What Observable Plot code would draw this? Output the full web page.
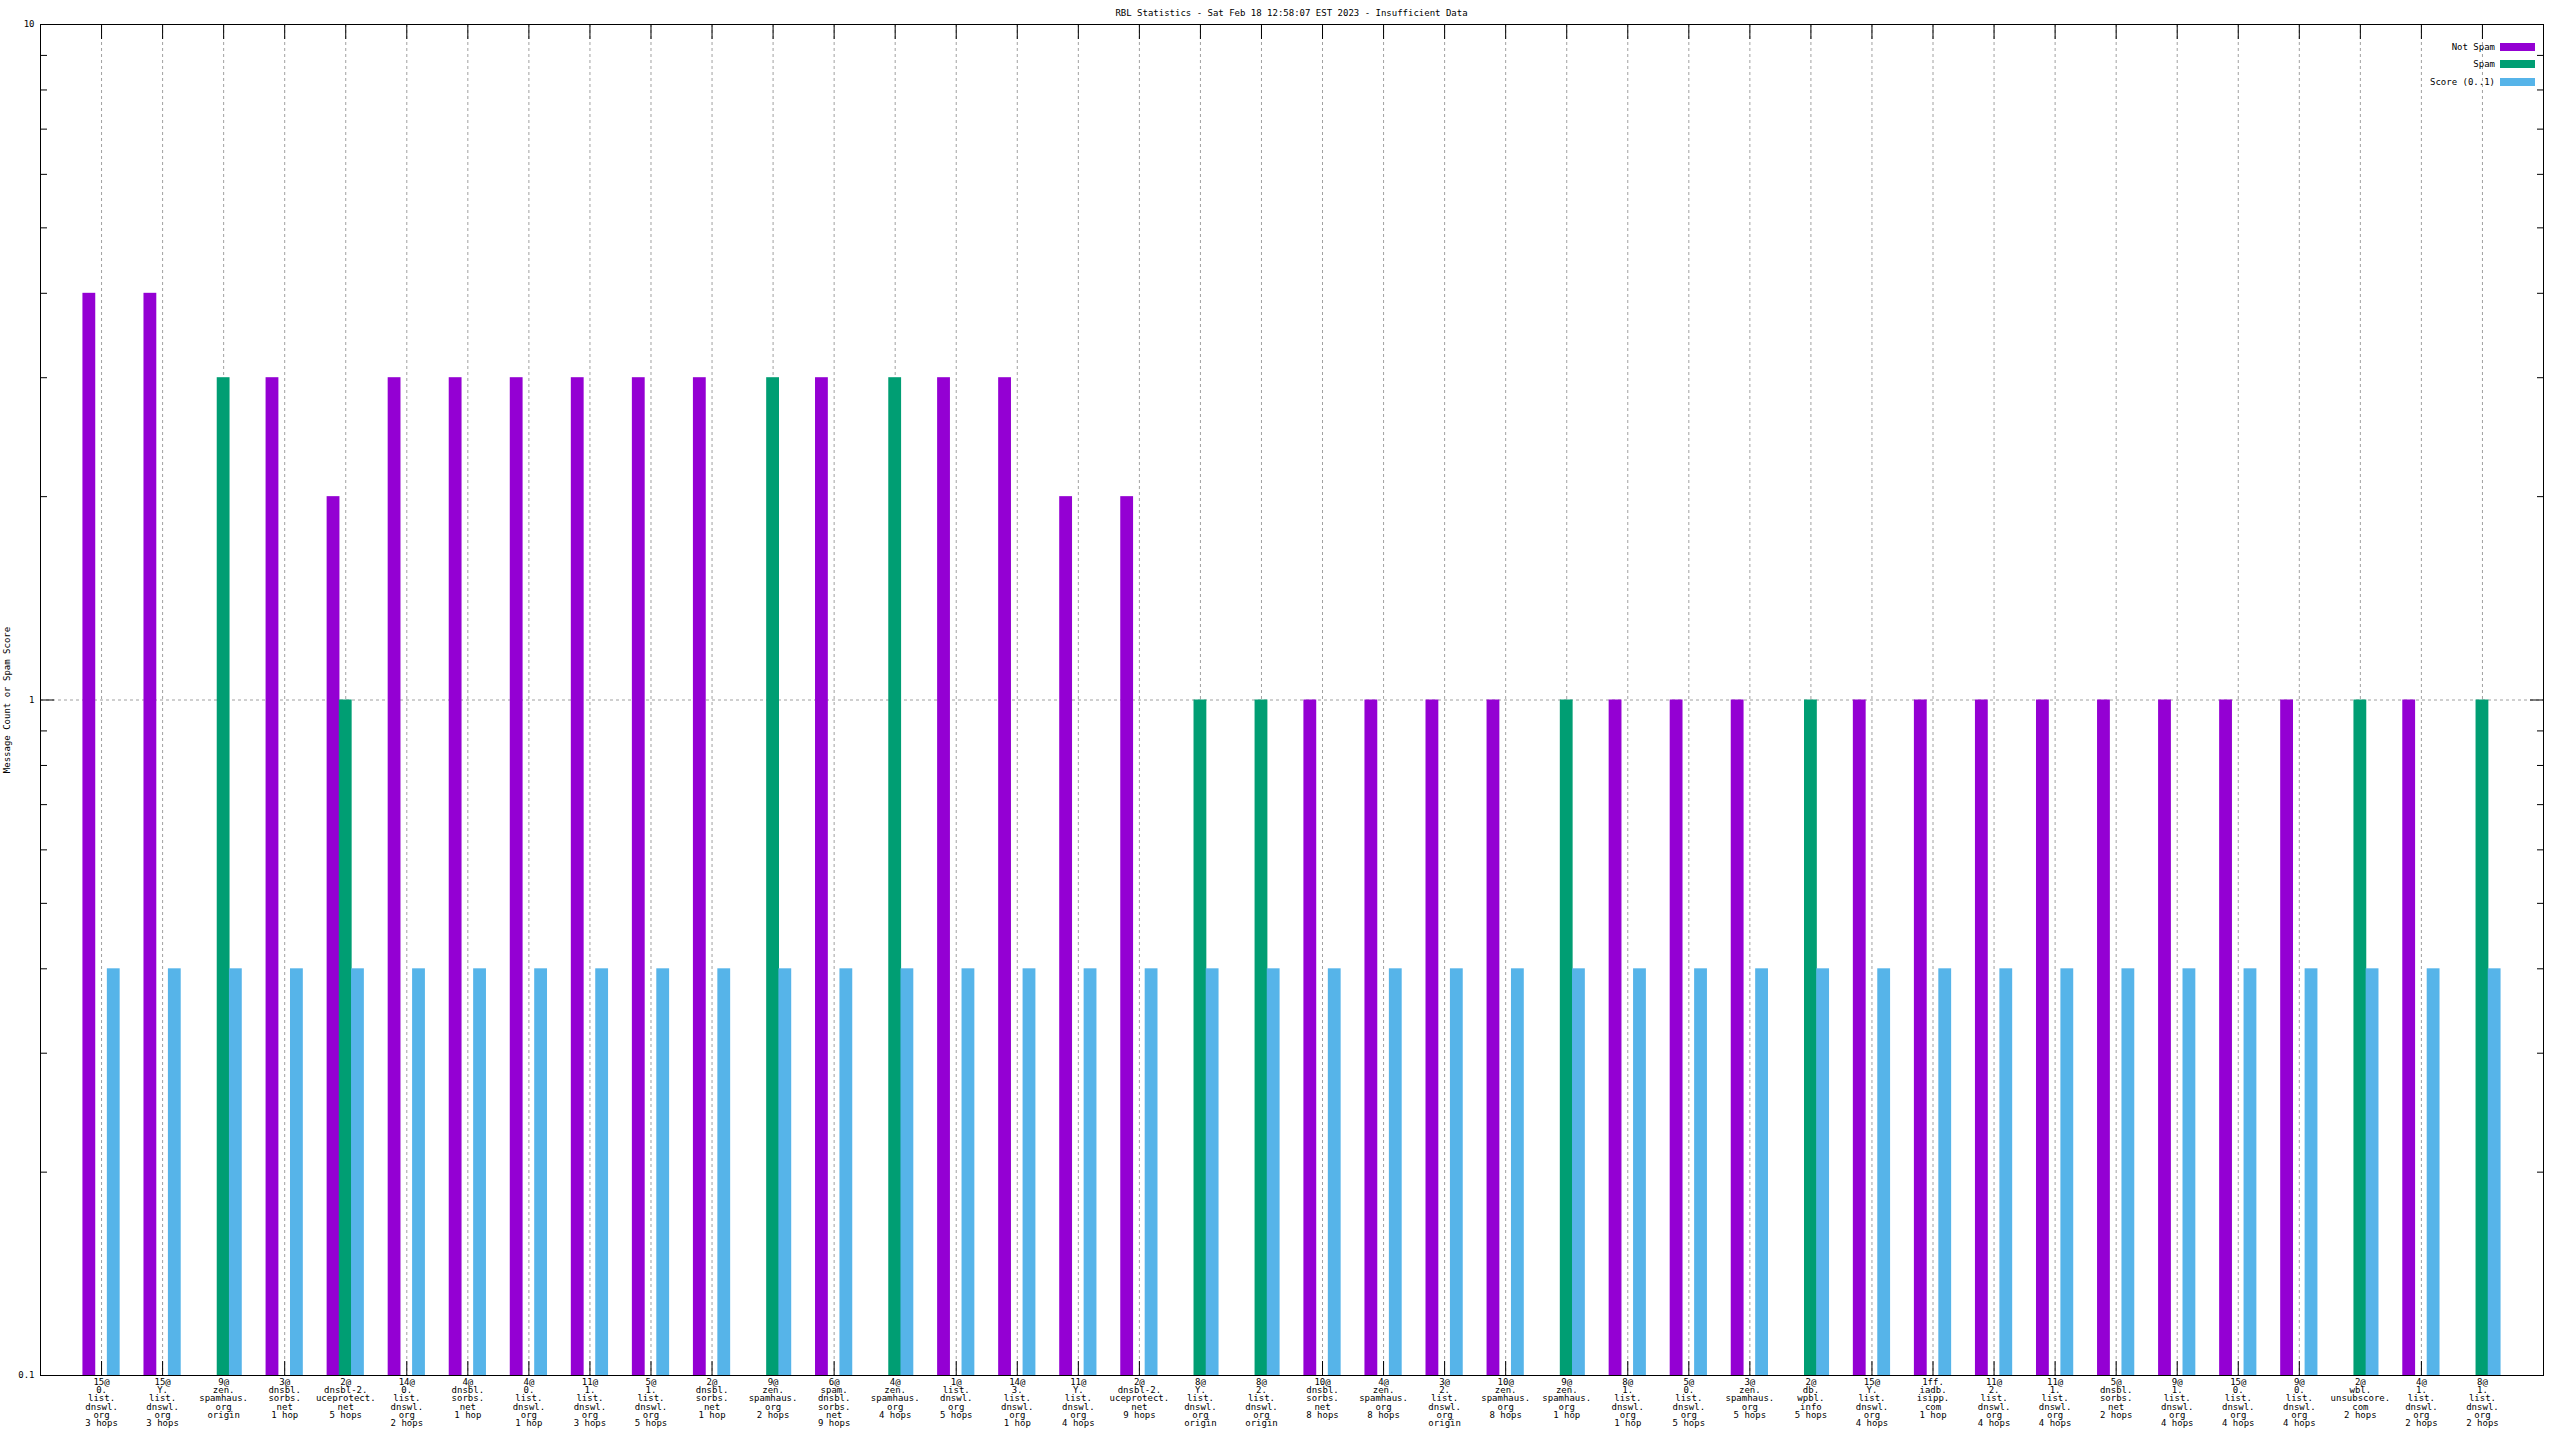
<!DOCTYPE html>
<html><head><meta charset="utf-8">
<script src="https://cdn.jsdelivr.net/npm/d3@7"></script>
<script src="https://cdn.jsdelivr.net/npm/@observablehq/plot@0.6"></script>
<style>
html,body{margin:0;padding:0;background:#fff;}
#wrap{position:relative;width:2560px;height:1440px;font-family:"DejaVu Sans Mono",monospace;color:#000;}
#title{position:absolute;left:40px;top:0;width:2503px;height:26px;line-height:26px;font-size:9px;text-align:center;white-space:pre;}
#legend{position:absolute;right:25px;top:38px;font-size:9px;}
.row{display:flex;align-items:center;justify-content:flex-end;height:17.5px;white-space:pre;}
.sw{width:35px;height:8px;margin-left:5px;}
#chart svg{display:block;}
</style></head><body>
<div id="wrap"><div id="chart"></div><div id="title"></div><div id="legend"></div></div>
<script>
const titleText = "RBL Statistics - Sat Feb 18 12:58:07 EST 2023 - Insufficient Data";
const yLabel = "Message Count or Spam Score";
const seriesNames = ["Not Spam", "Spam", "Score (0..1)"];
const seriesColors = ["#9400d3", "#009e73", "#56b4e9"];

const categories = [
  "15@\n0.\nlist.\ndnswl.\norg\n3 hops",
  "15@\nY.\nlist.\ndnswl.\norg\n3 hops",
  "9@\nzen.\nspamhaus.\norg\norigin",
  "3@\ndnsbl.\nsorbs.\nnet\n1 hop",
  "2@\ndnsbl-2.\nuceprotect.\nnet\n5 hops",
  "14@\n0.\nlist.\ndnswl.\norg\n2 hops",
  "4@\ndnsbl.\nsorbs.\nnet\n1 hop",
  "4@\n0.\nlist.\ndnswl.\norg\n1 hop",
  "11@\n1.\nlist.\ndnswl.\norg\n3 hops",
  "5@\n1.\nlist.\ndnswl.\norg\n5 hops",
  "2@\ndnsbl.\nsorbs.\nnet\n1 hop",
  "9@\nzen.\nspamhaus.\norg\n2 hops",
  "6@\nspam.\ndnsbl.\nsorbs.\nnet\n9 hops",
  "4@\nzen.\nspamhaus.\norg\n4 hops",
  "1@\nlist.\ndnswl.\norg\n5 hops",
  "14@\n3.\nlist.\ndnswl.\norg\n1 hop",
  "11@\nY.\nlist.\ndnswl.\norg\n4 hops",
  "2@\ndnsbl-2.\nuceprotect.\nnet\n9 hops",
  "8@\nY.\nlist.\ndnswl.\norg\norigin",
  "8@\n2.\nlist.\ndnswl.\norg\norigin",
  "10@\ndnsbl.\nsorbs.\nnet\n8 hops",
  "4@\nzen.\nspamhaus.\norg\n8 hops",
  "3@\n2.\nlist.\ndnswl.\norg\norigin",
  "10@\nzen.\nspamhaus.\norg\n8 hops",
  "9@\nzen.\nspamhaus.\norg\n1 hop",
  "8@\n1.\nlist.\ndnswl.\norg\n1 hop",
  "5@\n0.\nlist.\ndnswl.\norg\n5 hops",
  "3@\nzen.\nspamhaus.\norg\n5 hops",
  "2@\ndb.\nwpbl.\ninfo\n5 hops",
  "15@\nY.\nlist.\ndnswl.\norg\n4 hops",
  "1ff.\niadb.\nisipp.\ncom\n1 hop",
  "11@\n2.\nlist.\ndnswl.\norg\n4 hops",
  "11@\n1.\nlist.\ndnswl.\norg\n4 hops",
  "5@\ndnsbl.\nsorbs.\nnet\n2 hops",
  "9@\n1.\nlist.\ndnswl.\norg\n4 hops",
  "15@\n0.\nlist.\ndnswl.\norg\n4 hops",
  "9@\n0.\nlist.\ndnswl.\norg\n4 hops",
  "2@\nwbl.\nunsubscore.\ncom\n2 hops",
  "4@\n1.\nlist.\ndnswl.\norg\n2 hops",
  "8@\n1.\nlist.\ndnswl.\norg\n2 hops"
];
const notSpam = [4,4,0,3,2,3,3,3,3,3,3,0,3,0,3,3,2,2,0,0,1,1,1,1,0,1,1,1,0,1,1,1,1,1,1,1,1,0,1,0];
const spam    = [0,0,3,0,1,0,0,0,0,0,0,3,0,3,0,0,0,0,1,1,0,0,0,0,1,0,0,0,1,0,0,0,0,0,0,0,0,1,0,1];
const score   = [0.4,0.4,0.4,0.4,0.4,0.4,0.4,0.4,0.4,0.4,0.4,0.4,0.4,0.4,0.4,0.4,0.4,0.4,0.4,0.4,
                 0.4,0.4,0.4,0.4,0.4,0.4,0.4,0.4,0.4,0.4,0.4,0.4,0.4,0.4,0.4,0.4,0.4,0.4,0.4,0.4];
const yMajorTicks = [0.1, 1, 10];
const yMinorTicks = [0.2,0.3,0.4,0.5,0.6,0.7,0.8,0.9,2,3,4,5,6,7,8,9];

const catIdx = categories.map((_, i) => i + 1);
const seriesValues = [notSpam, spam, score];
const offsets = [-0.2, 0, 0.2];
const barW = 0.21;
const bars = [];
seriesValues.forEach((vals, s) => vals.forEach((v, i) => {
  if (v > 0) bars.push({i: i + 1, s: seriesNames[s], off: offsets[s], v});
}));

document.getElementById("title").textContent = titleText;
const lg = document.getElementById("legend");
seriesNames.forEach((n, k) => {
  const r = document.createElement("div"); r.className = "row";
  const t = document.createElement("span"); t.textContent = n;
  const sw = document.createElement("span"); sw.className = "sw"; sw.style.background = seriesColors[k];
  r.appendChild(t); r.appendChild(sw); lg.appendChild(r);
});

const gridStyle = {stroke: "#a0a0a0", strokeOpacity: 1, strokeDasharray: "3,3", strokeWidth: 1};
const chart = Plot.plot({
  width: 2560, height: 1440,
  marginTop: 24, marginBottom: 65, marginLeft: 40, marginRight: 17,
  style: {fontFamily: "DejaVu Sans Mono, monospace", fontSize: "9px", background: "white", color: "black"},
  x: {type: "linear", domain: [0, 41], axis: null},
  y: {type: "log", domain: [0.1, 10], axis: null},
  color: {domain: seriesNames, range: seriesColors},
  marks: [
    Plot.gridX({ticks: catIdx, ...gridStyle}),
    Plot.gridY({ticks: [1], ...gridStyle}),
    Plot.axisX({anchor: "bottom", ticks: catIdx, tickSize: -14, fill: "none", label: null}),
    Plot.axisX({anchor: "top", ticks: catIdx, tickSize: -14, fill: "none", label: null}),
    Plot.axisY({anchor: "left", ticks: yMajorTicks, tickSize: -14, fill: "none", label: null}),
    Plot.axisY({anchor: "left", ticks: yMinorTicks, tickSize: -7, fill: "none", label: null}),
    Plot.axisY({anchor: "right", ticks: yMajorTicks, tickSize: -14, fill: "none", label: null}),
    Plot.axisY({anchor: "right", ticks: yMinorTicks, tickSize: -7, fill: "none", label: null}),
    Plot.rect(bars, {
      x1: d => d.i + d.off - barW / 2,
      x2: d => d.i + d.off + barW / 2,
      y1: () => 0.1,
      y2: "v",
      fill: "s"
    }),
    Plot.axisX({anchor: "bottom", ticks: catIdx, tickSize: 0, tickPadding: 4,
      tickFormat: i => categories[i - 1], lineHeight: 0.9, label: null, fill: "black"}),
    Plot.axisY({anchor: "left", ticks: yMajorTicks, tickSize: 0, tickPadding: 6,
      tickFormat: d => String(d), label: yLabel, labelAnchor: "center", labelArrow: "none",
      labelOffset: 37, fill: "black"}),
    Plot.frame({stroke: "black", strokeWidth: 1})
  ]
});
document.getElementById("chart").appendChild(chart);
</script>
</body></html>
